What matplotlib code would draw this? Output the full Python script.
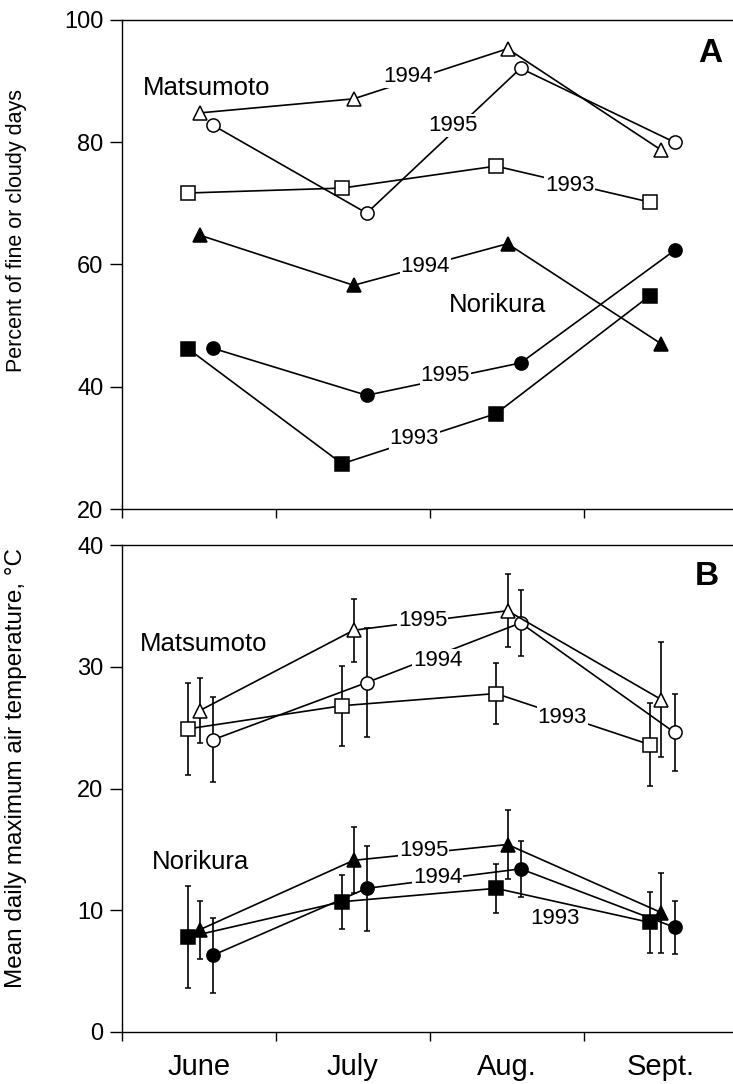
import matplotlib
matplotlib.use("Agg")
import matplotlib.pyplot as plt
import numpy as np

plt.rcParams['font.family'] = ['Liberation Sans', 'DejaVu Sans']

# ---------------- data ----------------
months = ["June", "July", "Aug.", "Sept."]

# Panel A: percent of fine or cloudy days
a_mats_1993 = [71.7, 72.5, 76.1, 70.2]
a_mats_1994 = [84.8, 87.1, 95.3, 78.7]
a_mats_1995 = [82.8, 68.4, 92.1, 80.0]
a_nori_1993 = [46.2, 27.4, 35.6, 54.9]
a_nori_1994 = [64.8, 56.6, 63.4, 47.0]
a_nori_1995 = [46.3, 38.6, 43.9, 62.3]

# Panel B: mean daily maximum air temperature (deg C) and error bars
b_mats_1993 = [24.9, 26.8, 27.8, 23.6]
b_mats_1993_err = [3.8, 3.3, 2.5, 3.4]
b_mats_1994 = [24.0, 28.7, 33.6, 24.6]
b_mats_1994_err = [3.5, 4.5, 2.7, 3.2]
b_mats_1995 = [26.4, 33.0, 34.6, 27.3]
b_mats_1995_err = [2.7, 2.6, 3.0, 4.7]
b_nori_1993 = [7.8, 10.7, 11.8, 9.0]
b_nori_1993_err = [4.2, 2.2, 2.0, 2.5]
b_nori_1994 = [6.3, 11.8, 13.4, 8.6]
b_nori_1994_err = [3.1, 3.5, 2.3, 2.2]
b_nori_1995 = [8.4, 14.1, 15.4, 9.8]
b_nori_1995_err = [2.4, 2.7, 2.8, 3.3]

# ---------------- layout ----------------
W, H = 733, 1084
fig = plt.figure(figsize=(W / 100, H / 100), dpi=100)

axA = fig.add_axes([122 / W, 1 - 509 / H, (733 - 122) / W, (509 - 20) / H])
axB = fig.add_axes([122 / W, 1 - 1032 / H, (733 - 122) / W, (1032 - 545) / H])

centers = np.arange(len(months)) + 0.5
off = {'s': -0.07, '^': 0.005, 'o': 0.09}

LW = 1.2
MS = {'s': 10, '^': 9.5, 'o': 9.5}

def series(ax, y, marker, filled, err=None):
    x = centers + off[marker]
    fc = 'black' if filled else 'white'
    if err is None:
        ax.plot(x, y, color='black', lw=LW, marker=marker, ms=MS[marker],
                mfc=fc, mec='black', mew=1.1, zorder=3, clip_on=False)
    else:
        ax.errorbar(x, y, yerr=err, color='black', lw=LW, marker=marker,
                    ms=MS[marker], mfc=fc, mec='black', mew=1.1,
                    ecolor='black', elinewidth=1.2, capsize=2.5, capthick=1.2,
                    zorder=3)

def style(ax, ymin, ymax, yticks):
    ax.set_xlim(0, 3.97)
    ax.set_ylim(ymin, ymax)
    ax.set_yticks(yticks)
    ax.set_xticks([0, 1, 2, 3])
    ax.set_xticklabels([])
    ax.spines['right'].set_visible(False)
    for s in ['left', 'top', 'bottom']:
        ax.spines[s].set_linewidth(1.0)
    ax.tick_params(axis='y', direction='out', length=8.5, width=1.0,
                   labelsize=17, pad=5)
    ax.tick_params(axis='x', which='major', direction='out', length=6.5,
                   width=1.0)

# ---------------- Panel A ----------------
style(axA, 20, 100, [20, 40, 60, 80, 100])
series(axA, a_mats_1993, 's', False)
series(axA, a_mats_1994, '^', False)
series(axA, a_mats_1995, 'o', False)
series(axA, a_nori_1993, 's', True)
series(axA, a_nori_1994, '^', True)
series(axA, a_nori_1995, 'o', True)

lab_kw = dict(fontsize=16, ha='center', va='center', zorder=5,
              bbox=dict(facecolor='white', edgecolor='none', pad=0.6))
axA.text(1.86, 90.8, "1994", **lab_kw)
axA.text(2.15, 82.8, "1995", **lab_kw)
axA.text(2.91, 73.0, "1993", **lab_kw)
axA.text(1.97, 59.6, "1994", **lab_kw)
axA.text(2.10, 41.9, "1995", **lab_kw)
axA.text(1.90, 31.5, "1993", **lab_kw)
axA.text(0.55, 88.9, "Matsumoto", fontsize=18.5, ha='center', va='center')
axA.text(2.44, 53.4, "Norikura", fontsize=18.5, ha='center', va='center')
axA.text(3.82, 94.6, "A", fontsize=24, fontweight='bold', ha='center', va='center')
axA.set_ylabel("Percent of fine or cloudy days", fontsize=15.5)
axA.yaxis.set_label_coords(-(122 - 27) / (733 - 122), (509 - 230) / (509 - 20))

# ---------------- Panel B ----------------
style(axB, 0, 40, [0, 10, 20, 30, 40])
series(axB, b_mats_1993, 's', False, b_mats_1993_err)
series(axB, b_mats_1994, 'o', False, b_mats_1994_err)
series(axB, b_mats_1995, '^', False, b_mats_1995_err)
series(axB, b_nori_1993, 's', True, b_nori_1993_err)
series(axB, b_nori_1994, 'o', True, b_nori_1994_err)
series(axB, b_nori_1995, '^', True, b_nori_1995_err)

axB.text(1.955, 33.8, "1995", **lab_kw)
axB.text(2.05, 30.55, "1994", **lab_kw)
axB.text(2.86, 25.8, "1993", **lab_kw)
axB.text(1.96, 14.9, "1995", **lab_kw)
axB.text(2.05, 12.7, "1994", **lab_kw)
axB.text(2.81, 9.3, "1993", fontsize=16, ha='center', va='center', zorder=5)
axB.text(0.53, 31.9, "Matsumoto", fontsize=18.5, ha='center', va='center')
axB.text(0.51, 14.0, "Norikura", fontsize=18.5, ha='center', va='center')
axB.text(3.80, 37.4, "B", fontsize=24, fontweight='bold', ha='center', va='center')
axB.set_ylabel("Mean daily maximum air temperature, \u00b0C", fontsize=17.5)
axB.yaxis.set_label_coords(-(122 - 27) / (733 - 122), (1032 - 768) / (1032 - 545))

axB.set_xticks(centers, minor=True)
axB.set_xticklabels(months, minor=True, fontsize=21)
axB.tick_params(axis='x', which='minor', length=0, pad=15)

fig.savefig("out.png", dpi=100)
